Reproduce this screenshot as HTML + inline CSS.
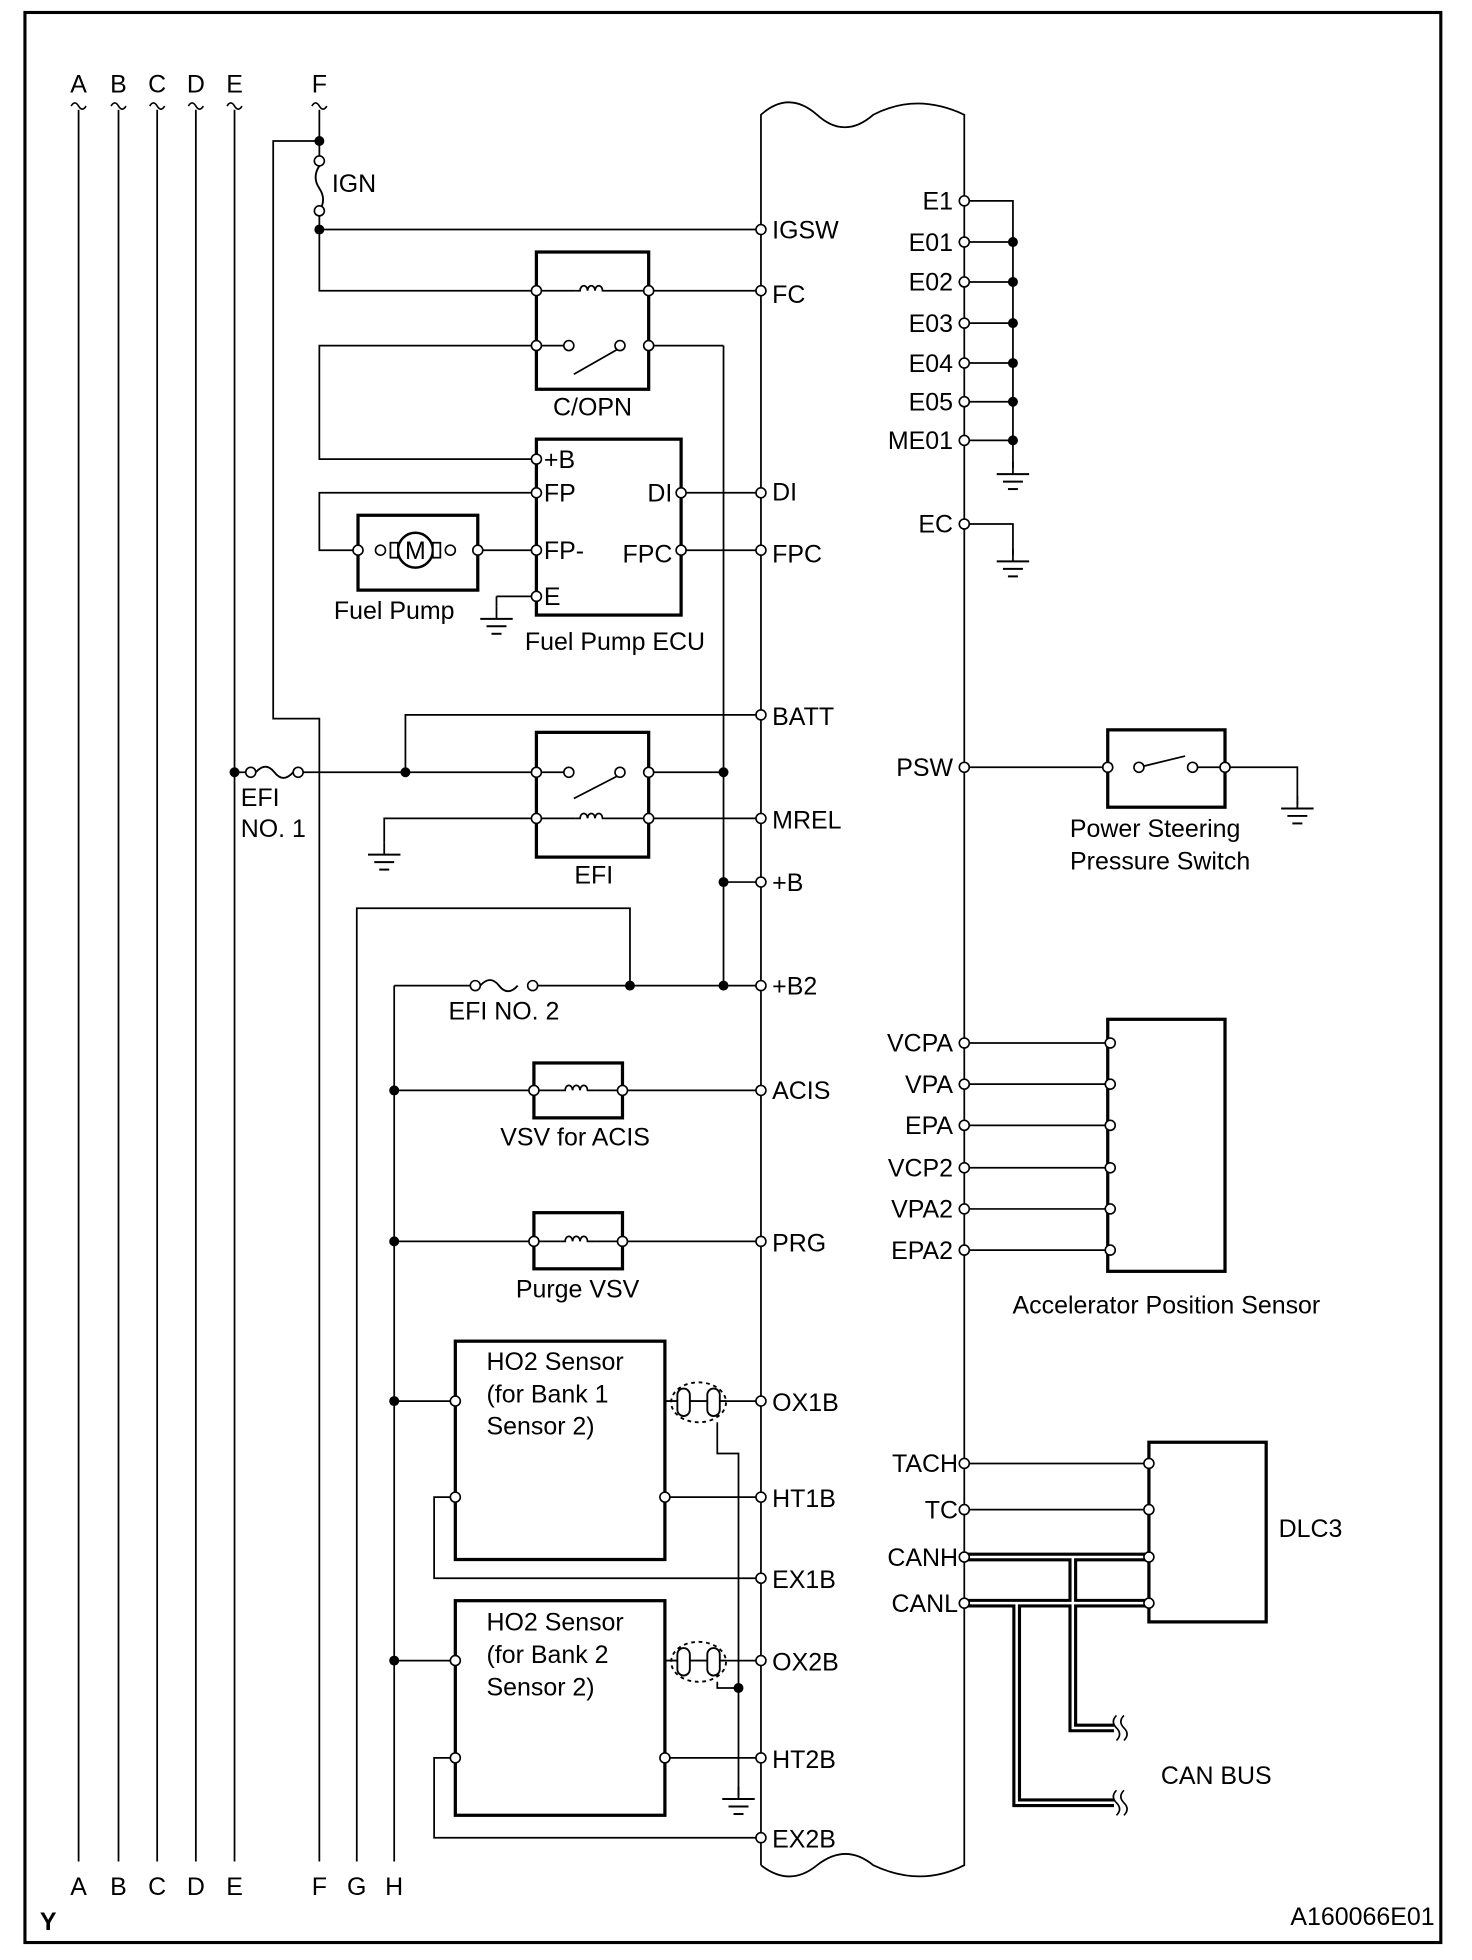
<!DOCTYPE html>
<html><head><meta charset="utf-8"><style>
html,body{margin:0;padding:0;background:#fff}
svg{display:block}
text{font-family:"Liberation Sans",sans-serif;font-size:20px;fill:#000}
</style></head><body>
<svg width="1472" height="1960" viewBox="0 0 1180 1571" preserveAspectRatio="none" xmlns="http://www.w3.org/2000/svg">
<defs>
<g id="coil"><path d="M-14,0 h4 a3,4 0 1 1 6,0 a3,4 0 1 1 6,0 a3,4 0 1 1 6,0 h6" fill="none" stroke="#000" stroke-width="1.4"/></g>
<g id="gnd"><line x1="0" y1="0" x2="0" y2="10" stroke="#000" stroke-width="1.4"/><line x1="-13" y1="10" x2="13" y2="10" stroke="#000" stroke-width="1.6"/><line x1="-8" y1="16" x2="8" y2="16" stroke="#000" stroke-width="1.6"/><line x1="-4" y1="22" x2="4" y2="22" stroke="#000" stroke-width="1.6"/></g>
<g id="wave"><path d="M-6,0 q3,-5 6,0 q3,5 6,0" fill="none" stroke="#000" stroke-width="1.3"/></g>
</defs>
<rect x="20" y="10" width="1135" height="1547" fill="none" stroke="#000" stroke-width="2.5"/>
<g fill="none" stroke="#000" stroke-width="1.4">
<line x1="63" y1="88" x2="63" y2="1492"/><line x1="95" y1="88" x2="95" y2="1492"/><line x1="126" y1="88" x2="126" y2="1492"/><line x1="157" y1="88" x2="157" y2="1492"/><line x1="188" y1="88" x2="188" y2="1492"/>
<polyline points="256,88 256,128"/>
<polyline points="256,170 256,233 430,233"/>
<polyline points="256,113 219,113 219,576 256,576 256,1492"/>
<polyline points="256,184 610,184"/>
<path d="M610,1495 V92 q22,-20 45,0 q22,20 45,0 q35,-18 73,0 V1495 q-35,18 -73,0 q-22,-18 -45,0 q-22,18 -45,0"/>
<line x1="430" y1="233" x2="461" y2="233"/><line x1="489" y1="233" x2="610" y2="233"/>
<line x1="430" y1="277" x2="456" y2="277"/><line x1="460" y1="300" x2="495" y2="280"/><line x1="520" y1="277" x2="580" y2="277"/><line x1="580" y1="277" x2="580" y2="790"/>
<polyline points="430,277 256,277 256,368 430,368"/>
<line x1="546" y1="395" x2="610" y2="395"/><line x1="546" y1="441" x2="610" y2="441"/>
<polyline points="430,395 256,395 256,441 287,441"/><line x1="383" y1="441" x2="430" y2="441"/>
<line x1="430" y1="478" x2="398" y2="478"/><line x1="398" y1="478" x2="398" y2="486"/>
<polyline points="610,573 325,573 325,619"/>
<line x1="188" y1="619" x2="200" y2="619"/><line x1="240" y1="619" x2="456" y2="619"/><line x1="460" y1="640" x2="495" y2="622"/><line x1="520" y1="619" x2="580" y2="619"/>
<polyline points="308,675 308,656 461,656"/><line x1="489" y1="656" x2="610" y2="656"/>
<line x1="580" y1="707" x2="610" y2="707"/>
<polyline points="286,1492 286,728 505,728 505,790"/>
<line x1="316" y1="790" x2="380" y2="790"/><line x1="428" y1="790" x2="610" y2="790"/><line x1="316" y1="790" x2="316" y2="1492"/>
<line x1="316" y1="874" x2="428" y2="874"/><line x1="499" y1="874" x2="610" y2="874"/>
<line x1="316" y1="995" x2="428" y2="995"/><line x1="499" y1="995" x2="610" y2="995"/>
<line x1="316" y1="1123" x2="365" y2="1123"/><line x1="533" y1="1200" x2="610" y2="1200"/>
<polyline points="365,1200 348,1200 348,1265 610,1265"/>
<line x1="582" y1="1123" x2="610" y2="1123"/>
<polyline points="575,1140 575,1165 592,1165 592,1440"/>
<line x1="316" y1="1331" x2="365" y2="1331"/><line x1="533" y1="1409" x2="610" y2="1409"/>
<polyline points="365,1409 348,1409 348,1473 610,1473"/>
<line x1="582" y1="1331" x2="610" y2="1331"/>
<polyline points="575,1348 575,1353 592,1353"/>
<polyline points="773,161 812,161 812,375"/>
<line x1="773" y1="194" x2="812" y2="194"/><line x1="773" y1="226" x2="812" y2="226"/><line x1="773" y1="259" x2="812" y2="259"/><line x1="773" y1="291" x2="812" y2="291"/><line x1="773" y1="322" x2="812" y2="322"/><line x1="773" y1="353" x2="812" y2="353"/>
<polyline points="773,420 812,420 812,445"/>
<line x1="773" y1="615" x2="888" y2="615"/><line x1="913" y1="615" x2="950" y2="606"/><line x1="956" y1="615" x2="982" y2="615"/><polyline points="982,615 1040,615 1040,645"/>
<line x1="773" y1="836" x2="890" y2="836"/><line x1="773" y1="869" x2="890" y2="869"/><line x1="773" y1="902" x2="890" y2="902"/><line x1="773" y1="936" x2="890" y2="936"/><line x1="773" y1="969" x2="890" y2="969"/><line x1="773" y1="1002" x2="890" y2="1002"/>
<line x1="773" y1="1173" x2="921" y2="1173"/><line x1="773" y1="1210" x2="921" y2="1210"/>
</g>
<g fill="none" stroke="#000" stroke-width="7"><polyline points="773,1248 921,1248"/><polyline points="860,1248 860,1385 893,1385"/><polyline points="773,1285 921,1285"/><polyline points="815,1285 815,1445 893,1445"/></g>
<g fill="none" stroke="#fff" stroke-width="2"><polyline points="773,1248 921,1248"/><polyline points="860,1248 860,1385 893,1385"/><polyline points="773,1285 921,1285"/><polyline points="815,1285 815,1445 893,1445"/></g>
<g fill="none" stroke="#000" stroke-width="1.3"><path d="M895,1375 q-5,5 0,10 q5,5 0,10"/><path d="M901,1375 q-5,5 0,10 q5,5 0,10"/><path d="M895,1435 q-5,5 0,10 q5,5 0,10"/><path d="M901,1435 q-5,5 0,10 q5,5 0,10"/></g>
<g fill="none" stroke="#000" stroke-width="2.6">
<rect x="430" y="202" width="90" height="110"/><rect x="430" y="352" width="116" height="141"/><rect x="287" y="413" width="96" height="60"/>
<rect x="430" y="587" width="90" height="100"/><rect x="428" y="852" width="71" height="44"/><rect x="428" y="972" width="71" height="45"/>
<rect x="365" y="1075" width="168" height="175"/><rect x="365" y="1283" width="168" height="172"/>
<rect x="888" y="585" width="94" height="62"/><rect x="888" y="817" width="94" height="202"/><rect x="921" y="1156" width="94" height="144"/>
</g>
<circle cx="333" cy="441" r="14" fill="#fff" stroke="#000" stroke-width="2"/><text x="333" y="448" text-anchor="middle" font-size="18">M</text>
<g stroke="#000" stroke-width="1.4" fill="#fff"><rect x="313" y="435" width="6" height="12"/><rect x="347" y="435" width="6" height="12"/></g>
<use href="#coil" x="475" y="233"/><use href="#coil" x="475" y="656"/><use href="#coil" x="463" y="874"/><use href="#coil" x="463" y="995"/>
<line x1="428" y1="874" x2="449" y2="874" stroke="#000" stroke-width="1.4"/><line x1="477" y1="874" x2="499" y2="874" stroke="#000" stroke-width="1.4"/>
<line x1="428" y1="995" x2="449" y2="995" stroke="#000" stroke-width="1.4"/><line x1="477" y1="995" x2="499" y2="995" stroke="#000" stroke-width="1.4"/>
<g fill="none" stroke="#000" stroke-width="1.5">
<path d="M256,133 q-6,9 0,18 q6,9 0,18"/>
<path d="M205,619 q8,-9 15,0 q7,9 15,0"/>
<path d="M385,790 q8,-9 15,0 q7,9 15,0"/>
<rect x="543" y="1113" width="10" height="22" rx="5"/><rect x="567" y="1113" width="10" height="22" rx="5"/><line x1="553" y1="1123" x2="567" y2="1123"/><line x1="533" y1="1123" x2="543" y2="1123"/><line x1="577" y1="1123" x2="582" y2="1123"/>
<ellipse cx="560" cy="1124" rx="22" ry="16" stroke-dasharray="3,3"/>
<rect x="543" y="1321" width="10" height="22" rx="5"/><rect x="567" y="1321" width="10" height="22" rx="5"/><line x1="553" y1="1331" x2="567" y2="1331"/><line x1="533" y1="1331" x2="543" y2="1331"/><line x1="577" y1="1331" x2="582" y2="1331"/>
<ellipse cx="560" cy="1332" rx="22" ry="16" stroke-dasharray="3,3"/>
</g>
<use href="#gnd" x="398" y="486"/><use href="#gnd" x="308" y="675"/><use href="#gnd" x="592" y="1432"/><use href="#gnd" x="812" y="370"/><use href="#gnd" x="812" y="440"/><use href="#gnd" x="1040" y="638"/>
<use href="#wave" x="63" y="85"/><use href="#wave" x="95" y="85"/><use href="#wave" x="126" y="85"/><use href="#wave" x="157" y="85"/><use href="#wave" x="188" y="85"/><use href="#wave" x="256" y="85"/>
<g fill="#fff" stroke="#000" stroke-width="1.3">
<circle cx="256" cy="129" r="4"/><circle cx="256" cy="169" r="4"/><circle cx="201" cy="619" r="4"/><circle cx="239" cy="619" r="4"/><circle cx="381" cy="790" r="4"/><circle cx="427" cy="790" r="4"/>
<circle cx="610" cy="184" r="4"/><circle cx="610" cy="233" r="4"/><circle cx="610" cy="395" r="4"/><circle cx="610" cy="441" r="4"/><circle cx="610" cy="573" r="4"/><circle cx="610" cy="656" r="4"/><circle cx="610" cy="707" r="4"/><circle cx="610" cy="790" r="4"/><circle cx="610" cy="874" r="4"/><circle cx="610" cy="995" r="4"/><circle cx="610" cy="1123" r="4"/><circle cx="610" cy="1200" r="4"/><circle cx="610" cy="1265" r="4"/><circle cx="610" cy="1331" r="4"/><circle cx="610" cy="1409" r="4"/><circle cx="610" cy="1473" r="4"/>
<circle cx="430" cy="233" r="4"/><circle cx="520" cy="233" r="4"/><circle cx="430" cy="277" r="4"/><circle cx="456" cy="277" r="4"/><circle cx="497" cy="277" r="4"/><circle cx="520" cy="277" r="4"/>
<circle cx="430" cy="368" r="4"/><circle cx="430" cy="395" r="4"/><circle cx="430" cy="441" r="4"/><circle cx="430" cy="478" r="4"/><circle cx="546" cy="395" r="4"/><circle cx="546" cy="441" r="4"/>
<circle cx="287" cy="441" r="4"/><circle cx="383" cy="441" r="4"/><circle cx="305" cy="441" r="4"/><circle cx="361" cy="441" r="4"/>
<circle cx="430" cy="619" r="4"/><circle cx="456" cy="619" r="4"/><circle cx="497" cy="619" r="4"/><circle cx="520" cy="619" r="4"/><circle cx="430" cy="656" r="4"/><circle cx="520" cy="656" r="4"/>
<circle cx="428" cy="874" r="4"/><circle cx="499" cy="874" r="4"/><circle cx="428" cy="995" r="4"/><circle cx="499" cy="995" r="4"/>
<circle cx="365" cy="1123" r="4"/><circle cx="365" cy="1200" r="4"/><circle cx="533" cy="1200" r="4"/><circle cx="365" cy="1331" r="4"/><circle cx="365" cy="1409" r="4"/><circle cx="533" cy="1409" r="4"/>
<circle cx="773" cy="161" r="4"/><circle cx="773" cy="194" r="4"/><circle cx="773" cy="226" r="4"/><circle cx="773" cy="259" r="4"/><circle cx="773" cy="291" r="4"/><circle cx="773" cy="322" r="4"/><circle cx="773" cy="353" r="4"/><circle cx="773" cy="420" r="4"/><circle cx="773" cy="615" r="4"/>
<circle cx="773" cy="836" r="4"/><circle cx="773" cy="869" r="4"/><circle cx="773" cy="902" r="4"/><circle cx="773" cy="936" r="4"/><circle cx="773" cy="969" r="4"/><circle cx="773" cy="1002" r="4"/>
<circle cx="890" cy="836" r="4"/><circle cx="890" cy="869" r="4"/><circle cx="890" cy="902" r="4"/><circle cx="890" cy="936" r="4"/><circle cx="890" cy="969" r="4"/><circle cx="890" cy="1002" r="4"/>
<circle cx="773" cy="1173" r="4"/><circle cx="773" cy="1210" r="4"/><circle cx="773" cy="1248" r="4"/><circle cx="773" cy="1285" r="4"/><circle cx="921" cy="1173" r="4"/><circle cx="921" cy="1210" r="4"/><circle cx="921" cy="1248" r="4"/><circle cx="921" cy="1285" r="4"/>
<circle cx="888" cy="615" r="4"/><circle cx="913" cy="615" r="4"/><circle cx="956" cy="615" r="4"/><circle cx="982" cy="615" r="4"/>
</g>
<g fill="#000"><circle cx="256" cy="113" r="4"/><circle cx="256" cy="184" r="4"/><circle cx="188" cy="619" r="4"/><circle cx="325" cy="619" r="4"/><circle cx="580" cy="619" r="4"/><circle cx="580" cy="707" r="4"/><circle cx="505" cy="790" r="4"/><circle cx="580" cy="790" r="4"/><circle cx="316" cy="874" r="4"/><circle cx="316" cy="995" r="4"/><circle cx="316" cy="1123" r="4"/><circle cx="316" cy="1331" r="4"/><circle cx="592" cy="1353" r="4"/>
<circle cx="812" cy="194" r="4"/><circle cx="812" cy="226" r="4"/><circle cx="812" cy="259" r="4"/><circle cx="812" cy="291" r="4"/><circle cx="812" cy="322" r="4"/><circle cx="812" cy="353" r="4"/></g>
<g text-anchor="middle"><text x="63" y="74">A</text><text x="95" y="74">B</text><text x="126" y="74">C</text><text x="157" y="74">D</text><text x="188" y="74">E</text><text x="256" y="74">F</text>
<text x="63" y="1519">A</text><text x="95" y="1519">B</text><text x="126" y="1519">C</text><text x="157" y="1519">D</text><text x="188" y="1519">E</text><text x="256" y="1519">F</text><text x="286" y="1519">G</text><text x="316" y="1519">H</text>
<text x="475" y="333">C/OPN</text><text x="316" y="496">Fuel Pump</text><text x="493" y="521">Fuel Pump ECU</text><text x="476" y="708">EFI</text><text x="404" y="817">EFI NO. 2</text><text x="461" y="918">VSV for ACIS</text><text x="463" y="1040">Purge VSV</text>
<text x="926" y="671">Power Steering</text><text x="930" y="697">Pressure Switch</text><text x="935" y="1053">Accelerator Position Sensor</text><text x="975" y="1430">CAN BUS</text></g>
<text x="266" y="154">IGN</text>
<g><text x="619" y="191">IGSW</text><text x="619" y="243">FC</text><text x="619" y="401">DI</text><text x="619" y="451">FPC</text><text x="619" y="581">BATT</text><text x="619" y="664">MREL</text><text x="619" y="714">+B</text><text x="619" y="797">+B2</text><text x="619" y="881">ACIS</text><text x="619" y="1003">PRG</text><text x="619" y="1131">OX1B</text><text x="619" y="1208">HT1B</text><text x="619" y="1273">EX1B</text><text x="619" y="1339">OX2B</text><text x="619" y="1417">HT2B</text><text x="619" y="1481">EX2B</text></g>
<text x="436" y="375">+B</text><text x="436" y="402">FP</text><text x="436" y="448">FP-</text><text x="436" y="485">E</text>
<g text-anchor="end"><text x="539" y="402">DI</text><text x="539" y="451">FPC</text>
<text x="764" y="168">E1</text><text x="764" y="201">E01</text><text x="764" y="233">E02</text><text x="764" y="266">E03</text><text x="764" y="298">E04</text><text x="764" y="329">E05</text><text x="764" y="360">ME01</text><text x="764" y="427">EC</text><text x="764" y="622">PSW</text>
<text x="764" y="843">VCPA</text><text x="764" y="876">VPA</text><text x="764" y="909">EPA</text><text x="764" y="943">VCP2</text><text x="764" y="976">VPA2</text><text x="764" y="1009">EPA2</text>
<text x="768" y="1180">TACH</text><text x="768" y="1217">TC</text><text x="768" y="1255">CANH</text><text x="768" y="1292">CANL</text>
<text x="1150" y="1543" font-size="12">A160066E01</text></g>
<text x="193" y="646">EFI</text><text x="193" y="671">NO. 1</text>
<text x="390" y="1098">HO2 Sensor</text><text x="390" y="1124">(for Bank 1</text><text x="390" y="1150">Sensor 2)</text>
<text x="390" y="1307">HO2 Sensor</text><text x="390" y="1333">(for Bank 2</text><text x="390" y="1359">Sensor 2)</text>
<text x="1025" y="1232">DLC3</text>
<text x="32" y="1547" font-size="16" font-weight="bold">Y</text>
</svg>
</body></html>
